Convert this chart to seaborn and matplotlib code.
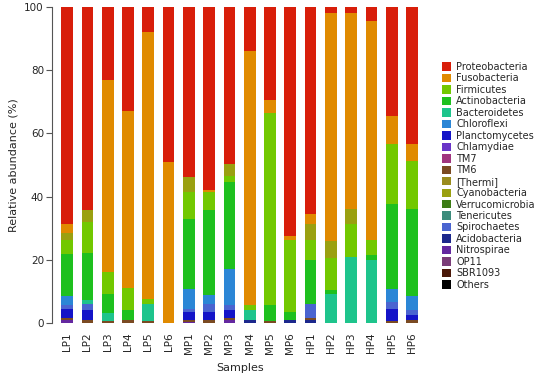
import numpy as np
import pandas as pd
import seaborn as sns
import matplotlib
matplotlib.use("Agg")
from matplotlib import pyplot as plt
from matplotlib.patches import Patch

samples = ["LP1", "LP2", "LP3", "LP4", "LP5", "LP6",
           "MP1", "MP2", "MP3", "MP4", "MP5", "MP6",
           "HP1", "HP2", "HP3", "HP4", "HP5", "HP6"]

# relative abundance (%) per phylum, one value per sample
proteobacteria = [68.6, 64.3, 23.0, 33.0, 8.0, 49.0, 53.9, 57.9, 49.7, 13.9, 29.5, 72.6, 65.5, 2.0, 1.8, 4.4, 34.4, 43.4]
fusobacteria = [2.8, 0, 61.0, 56.0, 84.5, 51.0, 0, 0.7, 0, 80.5, 3.9, 1.1, 3.1, 72.0, 62.1, 69.5, 9.0, 5.2]
firmicutes = [4.2, 9.8, 7.0, 7.0, 1.5, 0, 8.4, 5.8, 2.1, 1.6, 61.0, 22.8, 6.3, 10.0, 10.6, 4.7, 18.9, 15.3]
actinobacteria = [13.4, 14.8, 6.0, 3.2, 0, 0, 22.2, 26.9, 27.3, 0, 5.0, 2.7, 13.7, 1.5, 0, 1.6, 26.9, 27.7]
bacteroidetes = [0, 1.3, 2.5, 0, 5.5, 0, 0, 0, 0, 3.2, 0, 0, 0, 9.0, 20.8, 19.8, 0, 0]
chloroflexi = [2.9, 0, 0, 0, 0, 0, 6.3, 2.8, 11.6, 0, 0, 0, 0, 0, 0, 0, 4.2, 4.4]
planctomycetes = [3.1, 3.2, 0, 0, 0, 0, 2.5, 2.7, 2.3, 0, 0, 0, 0, 0, 0, 0, 3.9, 1.6]
chlamydiae = [0] * 18
tm7 = [0] * 18
tm6 = [0.6, 0.8, 0.5, 0.8, 0.5, 0, 0.6, 0.8, 0.8, 0, 0.6, 0, 0.6, 0, 0, 0, 0.6, 0.8]
thermi = [0] * 18
cyanobacteria = [2.5, 3.9, 0, 0, 0, 0, 4.7, 0, 3.7, 0, 0, 0, 5.3, 5.5, 4.7, 0, 0, 0]
verrucomicrobia = [0] * 18
tenericutes = [0] * 18
spirochaetes = [1.1, 1.9, 0, 0, 0, 0, 1.0, 2.4, 1.6, 0, 0, 0, 4.5, 0, 0, 0, 2.1, 1.6]
acidobacteria = [0, 0, 0, 0, 0, 0, 0, 0, 0, 0.8, 0, 0.8, 1.0, 0, 0, 0, 0, 0]
nitrospirae = [0.8, 0, 0, 0, 0, 0, 0.4, 0, 0.9, 0, 0, 0, 0, 0, 0, 0, 0, 0]
op11 = [0] * 18
sbr1093 = [0] * 18
others = [0] * 18

legend_names = ["Proteobacteria", "Fusobacteria", "Firmicutes", "Actinobacteria",
                "Bacteroidetes", "Chloroflexi", "Planctomycetes", "Chlamydiae",
                "TM7", "TM6", "[Thermi]", "Cyanobacteria", "Verrucomicrobia",
                "Tenericutes", "Spirochaetes", "Acidobacteria", "Nitrospirae",
                "OP11", "SBR1093", "Others"]
colors = ["#d81e0a", "#e08a00", "#72c800", "#1ec01e",
          "#1ec48c", "#2b86d6", "#1414c8", "#6a34c8",
          "#a0347e", "#7a4a22", "#9a8c1e", "#9aa010", "#3c7c14",
          "#3c8c7c", "#4a64d0", "#1c288c", "#6428a0",
          "#7a3c78", "#4a1808", "#000000"]

data = pd.DataFrame({
    "Proteobacteria": proteobacteria, "Fusobacteria": fusobacteria,
    "Firmicutes": firmicutes, "Actinobacteria": actinobacteria,
    "Bacteroidetes": bacteroidetes, "Chloroflexi": chloroflexi,
    "Planctomycetes": planctomycetes, "Chlamydiae": chlamydiae,
    "TM7": tm7, "TM6": tm6, "[Thermi]": thermi, "Cyanobacteria": cyanobacteria,
    "Verrucomicrobia": verrucomicrobia, "Tenericutes": tenericutes,
    "Spirochaetes": spirochaetes, "Acidobacteria": acidobacteria,
    "Nitrospirae": nitrospirae, "OP11": op11, "SBR1093": sbr1093, "Others": others,
}, index=samples)
palette = dict(zip(legend_names, colors))

# stacking order from the bottom up
stack_order = ["Others", "SBR1093", "OP11", "Nitrospirae", "Acidobacteria",
               "TM6", "Tenericutes", "Verrucomicrobia", "[Thermi]", "TM7",
               "Chlamydiae", "Planctomycetes", "Spirochaetes", "Chloroflexi",
               "Bacteroidetes", "Actinobacteria", "Firmicutes", "Cyanobacteria",
               "Fusobacteria", "Proteobacteria"]
cum = data[stack_order].cumsum(axis=1)

sns.set_style("white")
plt.rcParams['font.family'] = ['DejaVu Sans']

fig = plt.figure(figsize=(5.5, 3.75), dpi=100)
ax = fig.add_axes([0.1, 0.139, 0.673, 0.842])

# draw cumulative tops from the top layer down so lower layers overlay
for name in reversed(stack_order):
    df = pd.DataFrame({"Sample": samples, "top": cum[name].values})
    sns.barplot(data=df, x="Sample", y="top", order=samples, color=palette[name],
                saturation=1, width=0.58, linewidth=0, errorbar=None, ax=ax)

ax.set_ylim(0, 100)
ax.set_xlim(-0.6, 17.65)
ax.set_yticks([0, 20, 40, 60, 80, 100])
ax.tick_params(axis="y", left=True, length=4, width=0.8, color="#555555",
               labelsize=7.5, pad=2)
ax.tick_params(axis="x", bottom=False, labelsize=7.5, pad=3, labelrotation=90)
for s in ["top", "right", "bottom"]:
    ax.spines[s].set_visible(False)
ax.spines["left"].set_color("#555555")
ax.spines["left"].set_linewidth(0.8)
ax.spines["left"].set_position(("outward", 2))
ax.set_xlabel("Samples", fontsize=8, labelpad=7)
ax.set_ylabel("Relative abundance (%)", fontsize=8, labelpad=4)

handles = [Patch(facecolor=palette[n], edgecolor="none") for n in legend_names]
fig.legend(handles, legend_names, loc="upper left", bbox_to_anchor=(0.797, 0.845),
           frameon=False, fontsize=7, handlelength=0.95, handleheight=0.95,
           handletextpad=0.5, labelspacing=0.15, borderaxespad=0)

fig.savefig("out.png", dpi=100)
